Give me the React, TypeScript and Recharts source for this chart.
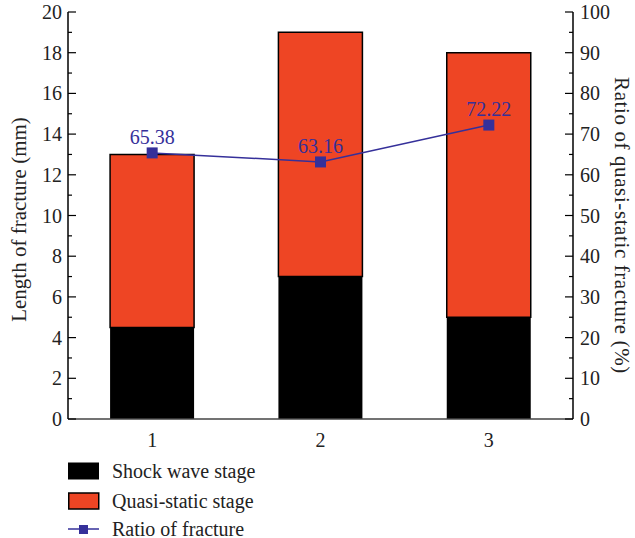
import React from 'react';
import { ComposedChart, Bar, Line, XAxis, YAxis, Legend, LabelList } from 'recharts';

const categories = ['1', '2', '3'];
const shockWaveStage = [4.5, 7, 5];
const quasiStaticStage = [8.5, 12, 13];
const ratioOfFracture = [65.38, 63.16, 72.22];

const leftTicks = [0, 1, 2, 3, 4, 5, 6, 7, 8, 9, 10, 11, 12, 13, 14, 15, 16, 17, 18, 19, 20];
const rightTicks = [0, 5, 10, 15, 20, 25, 30, 35, 40, 45, 50, 55, 60, 65, 70, 75, 80, 85, 90, 95, 100];

const RED = '#EE4524';
const BLUE = '#35309A';
const FONT = 'Liberation Serif, Times New Roman, serif';
const FS = 20;

const data = categories.map((c, i) => ({
  cat: c,
  shock: shockWaveStage[i],
  quasi: quasiStaticStage[i],
  ratio: ratioOfFracture[i],
}));

const LeftTick = (props: any) => {
  const { x, y, payload } = props;
  const major = payload.value % 2 === 0;
  const ax = x + 6;
  return (
    <g>
      <line x1={ax} x2={ax + (major ? 8 : 4)} y1={y} y2={y} stroke="#000" strokeWidth={1.2} />
      {major && (
        <text x={x} y={y} dy="0.35em" textAnchor="end" style={{ fontSize: FS, fontFamily: FONT }} fill="#222">
          {payload.value}
        </text>
      )}
    </g>
  );
};

const RightTick = (props: any) => {
  const { x, y, payload } = props;
  const major = payload.value % 10 === 0;
  const ax = x - 7;
  return (
    <g>
      <line x1={ax} x2={ax - (major ? 8 : 4)} y1={y} y2={y} stroke="#000" strokeWidth={1.2} />
      {major && (
        <text x={x} y={y} dy="0.35em" textAnchor="start" style={{ fontSize: FS, fontFamily: FONT }} fill="#222">
          {payload.value}
        </text>
      )}
    </g>
  );
};

const SquareDot = (props: any) => {
  const { cx, cy } = props;
  return <rect key={`d-${cx}`} x={cx - 5.5} y={cy - 5.5} width={11} height={11} fill={BLUE} />;
};

// axis titles, placed from the axis viewBox
const LeftTitle = (props: any) => {
  const vb = props.viewBox;
  const x = vb.x + 19;
  const y = vb.y + vb.height / 2 + 4;
  return (
    <text
      x={x}
      y={y}
      transform={`rotate(-90, ${x}, ${y})`}
      textAnchor="middle"
      dominantBaseline="central"
      style={{ fontSize: 21, fontFamily: FONT }}
      fill="#222"
    >
      Length of fracture (mm)
    </text>
  );
};

const RightTitle = (props: any) => {
  const vb = props.viewBox;
  const x = vb.x + vb.width - 13;
  const y = vb.y + vb.height / 2 + 10;
  return (
    <text
      x={x}
      y={y}
      transform={`rotate(90, ${x}, ${y})`}
      textAnchor="middle"
      dominantBaseline="central"
      style={{ fontSize: 21, fontFamily: FONT, letterSpacing: 0.6 }}
      fill="#222"
    >
      Ratio of quasi-static fracture (%)
    </text>
  );
};

const renderLegend = () => (
  <div style={{ fontFamily: FONT, fontSize: FS, color: '#222' }}>
    <div style={{ display: 'flex', alignItems: 'center', height: 30 }}>
      <svg width={44} height={18}>
        <rect x={0.5} y={1} width={30} height={16} fill="#000" stroke="#000" />
      </svg>
      <span>Shock wave stage</span>
    </div>
    <div style={{ display: 'flex', alignItems: 'center', height: 30 }}>
      <svg width={44} height={18}>
        <rect x={0.75} y={1} width={30} height={16} fill={RED} stroke="#000" strokeWidth={1.5} />
      </svg>
      <span>Quasi-static stage</span>
    </div>
    <div style={{ display: 'flex', alignItems: 'center', height: 26 }}>
      <svg width={44} height={18}>
        <line x1={0} x2={31} y1={9} y2={9} stroke={BLUE} strokeWidth={1.5} />
        <rect x={11} y={5} width={9} height={9} fill={BLUE} />
      </svg>
      <span>Ratio of fracture</span>
    </div>
  </div>
);

export default function App() {
  return (
    <div style={{ position: 'absolute', left: 0, top: 0, fontFamily: FONT, background: '#fff' }}>
      <ComposedChart
        width={635}
        height={538}
        data={data}
        margin={{ top: 12, right: 0, bottom: 89, left: 0 }}
        barCategoryGap="25%"
        style={{ fontFamily: FONT }}
      >
        <XAxis
          dataKey="cat"
          height={30}
          axisLine={{ stroke: '#444', strokeWidth: 1.5 }}
          tickLine={false}
          tickMargin={8}
          tick={{ fill: '#222', style: { fontSize: FS, fontFamily: FONT } }}
        />
        <YAxis
          yAxisId="left"
          width={68}
          domain={[0, 20]}
          ticks={leftTicks}
          interval={0}
          tickLine={false}
          tickSize={0}
          tickMargin={6}
          axisLine={{ stroke: '#000', strokeWidth: 1.5 }}
          tick={<LeftTick />}
          label={{ content: LeftTitle }}
        />
        <YAxis
          yAxisId="right"
          orientation="right"
          width={62}
          domain={[0, 100]}
          ticks={rightTicks}
          interval={0}
          tickLine={false}
          tickSize={0}
          tickMargin={7}
          axisLine={{ stroke: '#000', strokeWidth: 1.5 }}
          tick={<RightTick />}
          label={{ content: RightTitle }}
        />
        <Legend
          layout="vertical"
          verticalAlign="middle"
          align="center"
          content={renderLegend}
          wrapperStyle={{ top: 456, left: 68, width: 'auto' }}
        />
        <Bar yAxisId="left" dataKey="shock" stackId="s" fill="#000" isAnimationActive={false} />
        <Bar
          yAxisId="left"
          dataKey="quasi"
          stackId="s"
          fill={RED}
          stroke="#000"
          strokeWidth={1.5}
          isAnimationActive={false}
        />
        <Line
          yAxisId="right"
          dataKey="ratio"
          stroke={BLUE}
          strokeWidth={1.5}
          dot={<SquareDot />}
          activeDot={false}
          isAnimationActive={false}
        >
          <LabelList
            dataKey="ratio"
            position="top"
            offset={9}
            fill={BLUE}
            style={{ fontSize: FS, fontFamily: FONT }}
          />
        </Line>
      </ComposedChart>
    </div>
  );
}
